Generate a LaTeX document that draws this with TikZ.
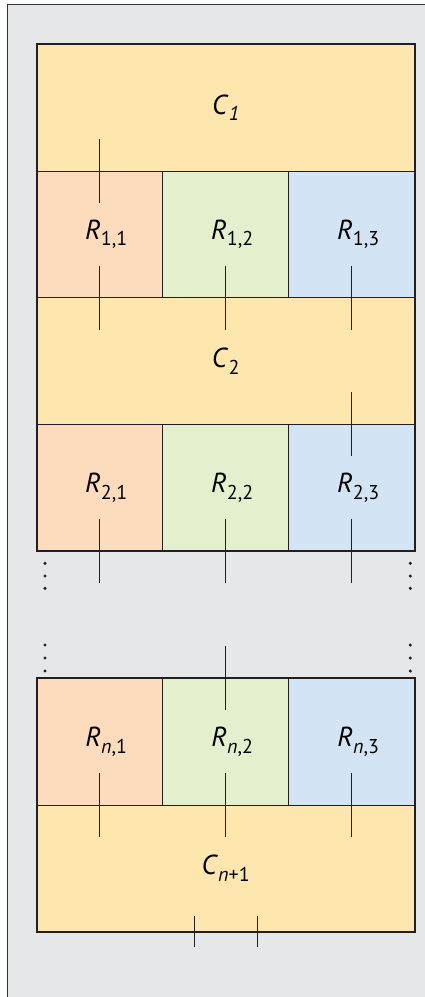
\documentclass[tikz,border=0pt]{standalone}
\usepackage{fontspec}
\setmainfont{PT Sans}
\definecolor{bgc}{HTML}{E6E7E8}
\definecolor{ink}{HTML}{231F20}
\definecolor{cyel}{HTML}{FDE7AF}
\definecolor{cpeach}{HTML}{FDDBBD}
\definecolor{cgreen}{HTML}{E4EFCD}
\definecolor{cblue}{HTML}{D3E4F4}
\newcommand\lab[2]{\textit{#1}\raisebox{-6.5pt}{\fontsize{20}{21}\selectfont #2}}
\newcommand\rlab[2]{\hspace*{13pt}\lab{#1}{#2}}
\begin{document}
\begin{tikzpicture}[x=1pt,y=-1pt,
  cell/.style={draw=ink, line width=1pt, inner sep=0pt, outer sep=0pt,
    minimum width=126pt, minimum height=126.7pt, anchor=north west,
    font=\fontsize{27.5}{31}\selectfont},
  crow/.style={cell, fill=cyel, minimum width=378pt},
  outerbox/.style={draw=ink, line width=2pt},
  tk/.style={draw=ink, line width=0.9pt},
  dotf/.style={fill=ink}]
\useasboundingbox (0,0) rectangle (425,997);
\fill[white] (0,0) rectangle (425,997);
\fill[bgc] (7.3,4.7) rectangle (425,997);
\draw[black!80, line width=1pt] (7.3,997) -- (7.3,4.7) -- (425,4.7);

% upper block
\node[crow] (C1) at (36.7,44.3) {\lab{C}{\textit{1}}};
\node[cell, fill=cpeach] (R11) at (36.7,171) {\rlab{R}{1,1}};
\node[cell, fill=cgreen] (R12) at (162.7,171) {\rlab{R}{1,2}};
\node[cell, fill=cblue] (R13) at (288.7,171) {\rlab{R}{1,3}};
\node[crow] (C2) at (36.7,297.7) {\lab{C}{2}};
\node[cell, fill=cpeach] (R21) at (36.7,424.4) {\rlab{R}{2,1}};
\node[cell, fill=cgreen] (R22) at (162.7,424.4) {\rlab{R}{2,2}};
\node[cell, fill=cblue] (R23) at (288.7,424.4) {\rlab{R}{2,3}};
\draw[outerbox] (C1.north west) rectangle (R23.south east);

% lower block
\node[cell, fill=cpeach] (Rn1) at (36.7,678.3) {\rlab{R}{\textit{n},1}};
\node[cell, fill=cgreen] (Rn2) at (162.7,678.3) {\rlab{R}{\textit{n},2}};
\node[cell, fill=cblue] (Rn3) at (288.7,678.3) {\rlab{R}{\textit{n},3}};
\node[crow] (Cn1) at (36.7,805) {\lab{C}{\textit{n}+1}};
\draw[outerbox] (Rn1.north west) rectangle (Cn1.south east);

% ticks
\foreach \a in {R11.north, R11.south, R12.south, R13.south, R23.north,
  R21.south, R22.south, R23.south, Rn2.north, Rn1.south, Rn2.south, Rn3.south}
  \draw[tk] ([yshift=32pt]\a) -- ([yshift=-32pt]\a);
\draw[tk] ([xshift=-31.3pt,yshift=15.5pt]Cn1.south) -- ([xshift=-31.3pt,yshift=-15.5pt]Cn1.south);
\draw[tk] ([xshift=31.3pt,yshift=15.5pt]Cn1.south) -- ([xshift=31.3pt,yshift=-15.5pt]Cn1.south);

% dots
\foreach \yy in {563.3,576,588.3,645,658,671}{
  \fill[dotf] (45,\yy) circle (1.7pt);
  \fill[dotf] (410.3,\yy) circle (1.7pt);
}
\end{tikzpicture}
\end{document}
